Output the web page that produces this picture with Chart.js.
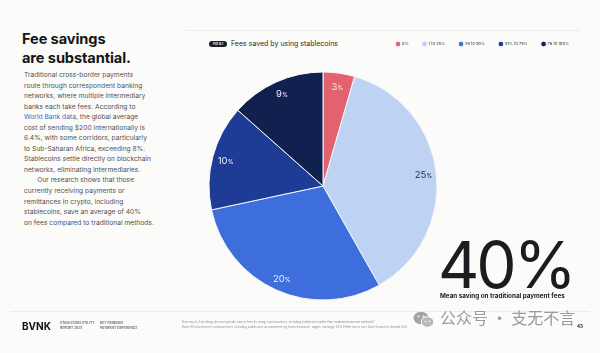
<!DOCTYPE html>
<html>
<head>
<meta charset="utf-8">
<script src="https://cdn.jsdelivr.net/npm/chart.js@4.4.1/dist/chart.umd.min.js"></script>
<style>
  html, body { margin:0; padding:0; }
  body { width:600px; height:353px; overflow:hidden; background:#fbfbf9; font-family: Inter, "Noto Sans", sans-serif; position:relative; color:#1c1c1e; }
  .abs { position:absolute; white-space:nowrap; }
  #title { left:22px; top:30px; font-size:14.6px; font-weight:700; line-height:19px; letter-spacing:-0.1px; color:#151517; }
  #body { left:24px; top:70px; font-size:6.7px; line-height:10.55px; color:#525254; }
  #body .lnk { color:#3a6cc4; }
  #topline { left:185px; top:30px; width:395px; height:1px; background:#ececea; }
  #footline { left:10px; top:311px; width:580px; height:1px; background:#ececea; }
  #badge { left:209px; top:41px; width:18px; height:6px; border-radius:3px; background:#1d1d1f; color:#fff; font-size:3.2px; font-weight:700; line-height:6px; text-align:center; }
  #ctitle { left:231px; top:39px; font-size:7px; color:#2a2a2c; line-height:10px; }
  #big { left:438px; top:230px; font-size:64px; font-weight:400; line-height:70px; color:#1b1c20; letter-spacing:-3px; }
  #mean { left:440px; top:292px; font-size:6.3px; font-weight:700; color:#1b1c20; }
  #bvnk { left:22px; top:320px; font-size:10px; font-weight:700; color:#111; }
  .small { font-size:3.3px; line-height:4.5px; color:#666; font-weight:600; }
  #f1 { left:60px; top:321px; }
  #f2 { left:100px; top:321px; }
  #note { left:182px; top:320px; font-size:2.9px; line-height:4.6px; color:#8a8a8a; }
  #page { left:577px; top:324px; font-size:4.5px; font-weight:700; color:#222; }
  #wm { left:440px; top:305px; font-size:16px; color:#9a9a9a; font-family:"Noto Sans CJK SC", sans-serif; }
  #wmicon { left:413px; top:311px; }
  canvas#c { position:absolute; left:0; top:0; }
</style>
</head>
<body>
<div id="topline" class="abs"></div>
<div id="footline" class="abs"></div>
<div id="title" class="abs">Fee savings<br>are substantial.</div>
<div id="body" class="abs">Traditional cross-border payments<br>route through correspondent banking<br>networks, where multiple intermediary<br>banks each take fees. According to<br><span class="lnk">World Bank data</span>, the global average<br>cost of sending $200 internationally is<br>6.4%, with some corridors, particularly<br>to Sub-Saharan Africa, exceeding 8%.<br>Stablecoins settle directly on blockchain<br>networks, eliminating intermediaries.<br>&nbsp;&nbsp;&nbsp;&nbsp;&nbsp;&nbsp;&nbsp;Our research shows that those<br>currently receiving payments or<br>remittances in crypto, including<br>stablecoins, save an average of 40%<br>on fees compared to traditional methods.</div>
<div id="badge" class="abs">FIG 6.1</div>
<div id="ctitle" class="abs">Fees saved by using stablecoins</div>
<canvas id="c" width="600" height="353"></canvas>
<div id="big" class="abs">40%</div>
<div id="mean" class="abs">Mean saving on traditional payment fees</div>
<div id="bvnk" class="abs">BVNK</div>
<div id="f1" class="abs small">STABLECOIN UTILITY<br>REPORT 2025</div>
<div id="f2" class="abs small">KEY FINDINGS<br>PAYMENT EXPERIENCE</div>
<div id="note" class="abs">How much, if anything, do you typically save in fees by using cryptocurrency, including stablecoins rather than traditional payment methods?<br>Base: All who receive cryptocurrency, including stablecoins as a payment eg. from remittance, wages, earnings; 25% Prefer not to say / Don't know not charted 33%</div>
<svg id="wmicon" class="abs" width="22" height="18" viewBox="0 0 22 18">
  <ellipse cx="8" cy="7" rx="7.5" ry="6.3" fill="#a3a3a3"/>
  <ellipse cx="14.5" cy="11" rx="6.3" ry="5.3" fill="#b8b8b8" stroke="#fbfbf9" stroke-width="1"/>
  <circle cx="5.5" cy="5.5" r="1" fill="#fbfbf9"/><circle cx="10.5" cy="5.5" r="1" fill="#fbfbf9"/>
  <circle cx="12.5" cy="10.5" r="0.8" fill="#fbfbf9"/><circle cx="16.5" cy="10.5" r="0.8" fill="#fbfbf9"/>
</svg>
<div id="wm" class="abs">公众号 · 支无不言</div>
<div id="page" class="abs">43</div>
<script>
const categories = ['0%', '1 to 25%', '26 to 50%', '51% to 75%', '76 to 100%'];
const shares = [3, 25, 20, 10, 9];
const valueLabels = ['3', '25', '20', '10', '9'];

const sliceColors = ['#e0636f', '#bed3f3', '#3e6ddc', '#1e3c96', '#10214f'];
const labelColors = ['#fbe9eb', '#1d2f66', '#e9efff', '#eef2ff', '#eef2ff'];

const sliceLabels = {
  id: 'sliceLabels',
  afterDatasetsDraw(chart) {
    const ctx = chart.ctx;
    const meta = chart.getDatasetMeta(0);
    meta.data.forEach((arc, i) => {
      const p = arc.getProps(['x', 'y', 'startAngle', 'endAngle', 'outerRadius'], true);
      const mid = (p.startAngle + p.endAngle) / 2;
      const r = p.outerRadius * 0.885;
      const x = p.x + Math.cos(mid) * r;
      const y = p.y + Math.sin(mid) * r;
      ctx.save();
      ctx.fillStyle = labelColors[i];
      ctx.textBaseline = 'alphabetic';
      ctx.font = '400 9.5px Inter, "Noto Sans", sans-serif';
      const num = valueLabels[i];
      const nw = ctx.measureText(num).width;
      ctx.font = '600 5.5px Inter, "Noto Sans", sans-serif';
      const pw = ctx.measureText('%').width;
      const x0 = x - (nw + pw) / 2;
      ctx.font = '400 9.5px Inter, "Noto Sans", sans-serif';
      ctx.textAlign = 'left';
      ctx.fillText(num, x0, y + 3.5);
      ctx.font = '600 5.5px Inter, "Noto Sans", sans-serif';
      ctx.fillText('%', x0 + nw + 0.3, y + 3.5);
      ctx.restore();
    });
  }
};

new Chart(document.getElementById('c'), {
  type: 'pie',
  data: {
    labels: categories,
    datasets: [{
      data: shares,
      backgroundColor: sliceColors,
      borderColor: '#f4f6fb',
      borderWidth: 1
    }]
  },
  options: {
    responsive: false,
    animation: false,
    radius: 114,
    layout: { padding: { left: 63, right: 17, top: 28, bottom: 37 } },
    plugins: {
      tooltip: { enabled: false },
      legend: {
        position: 'top',
        align: 'end',
        labels: {
          usePointStyle: true,
          pointStyle: 'circle',
          boxHeight: 4,
          boxWidth: 4,
          padding: 14,
          color: '#555557',
          font: { size: 4, family: 'Inter, "Noto Sans", sans-serif', weight: '500' }
        }
      }
    }
  },
  plugins: [sliceLabels]
});
</script>
</body>
</html>
